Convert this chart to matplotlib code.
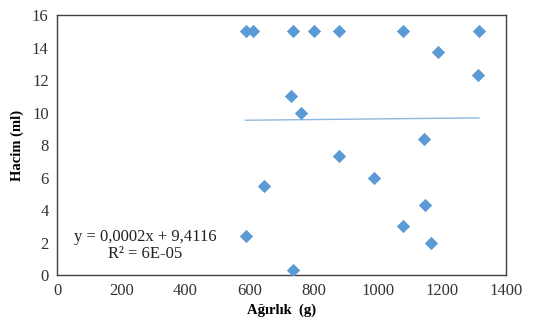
import matplotlib.pyplot as plt

# Ağırlık (g) ve Hacim (ml) değerleri
agirlik = [588, 610, 736, 803, 881, 1080, 1316, 1189, 1312, 730, 762,
           1146, 880, 989, 646, 1147, 1080, 588, 1166, 736]
hacim = [15, 15, 15, 15, 15, 15, 15, 13.7, 12.3, 11.0, 10.0,
         8.4, 7.3, 6.0, 5.5, 4.3, 3.0, 2.4, 2.0, 0.3]

# doğrusal eğilim çizgisi katsayıları
egim = 0.0002
kesisim = 9.4116

plt.rcParams['font.family'] = ['Liberation Serif', 'DejaVu Serif']

fig = plt.figure(figsize=(5.54, 3.29), dpi=100)
ax = fig.add_axes([0.103, 0.164, 0.81, 0.79])

ax.scatter(agirlik, hacim, marker='D', s=46, color='#5b9bd5', zorder=3, linewidths=0)

x_min, x_max = min(agirlik), max(agirlik)
ax.plot([x_min, x_max], [egim * x_min + kesisim, egim * x_max + kesisim],
        color='#8fb8df', linewidth=1.0, zorder=2)

ax.set_xlim(0, 1400)
ax.set_ylim(0, 16)
ax.set_xticks(range(0, 1401, 200))
ax.set_yticks(range(0, 17, 2))
ax.tick_params(length=0, labelsize=12, colors='#333333', pad=6)
for s in ax.spines.values():
    s.set_color('#404040')
    s.set_linewidth(1.0)

ax.set_xlabel('Ağırlık  (g)', fontweight='bold', fontsize=10.5, labelpad=3)
ax.set_ylabel('Hacim (ml)', fontweight='bold', fontsize=10.5, labelpad=6)

ax.text(274, 2.35, 'y = 0,0002x + 9,4116', fontsize=12, color='#222222', va='center', ha='center')
ax.text(274, 1.3, 'R² = 6E-05', fontsize=12, color='#222222', va='center', ha='center')

fig.savefig('out.png', dpi=100)
